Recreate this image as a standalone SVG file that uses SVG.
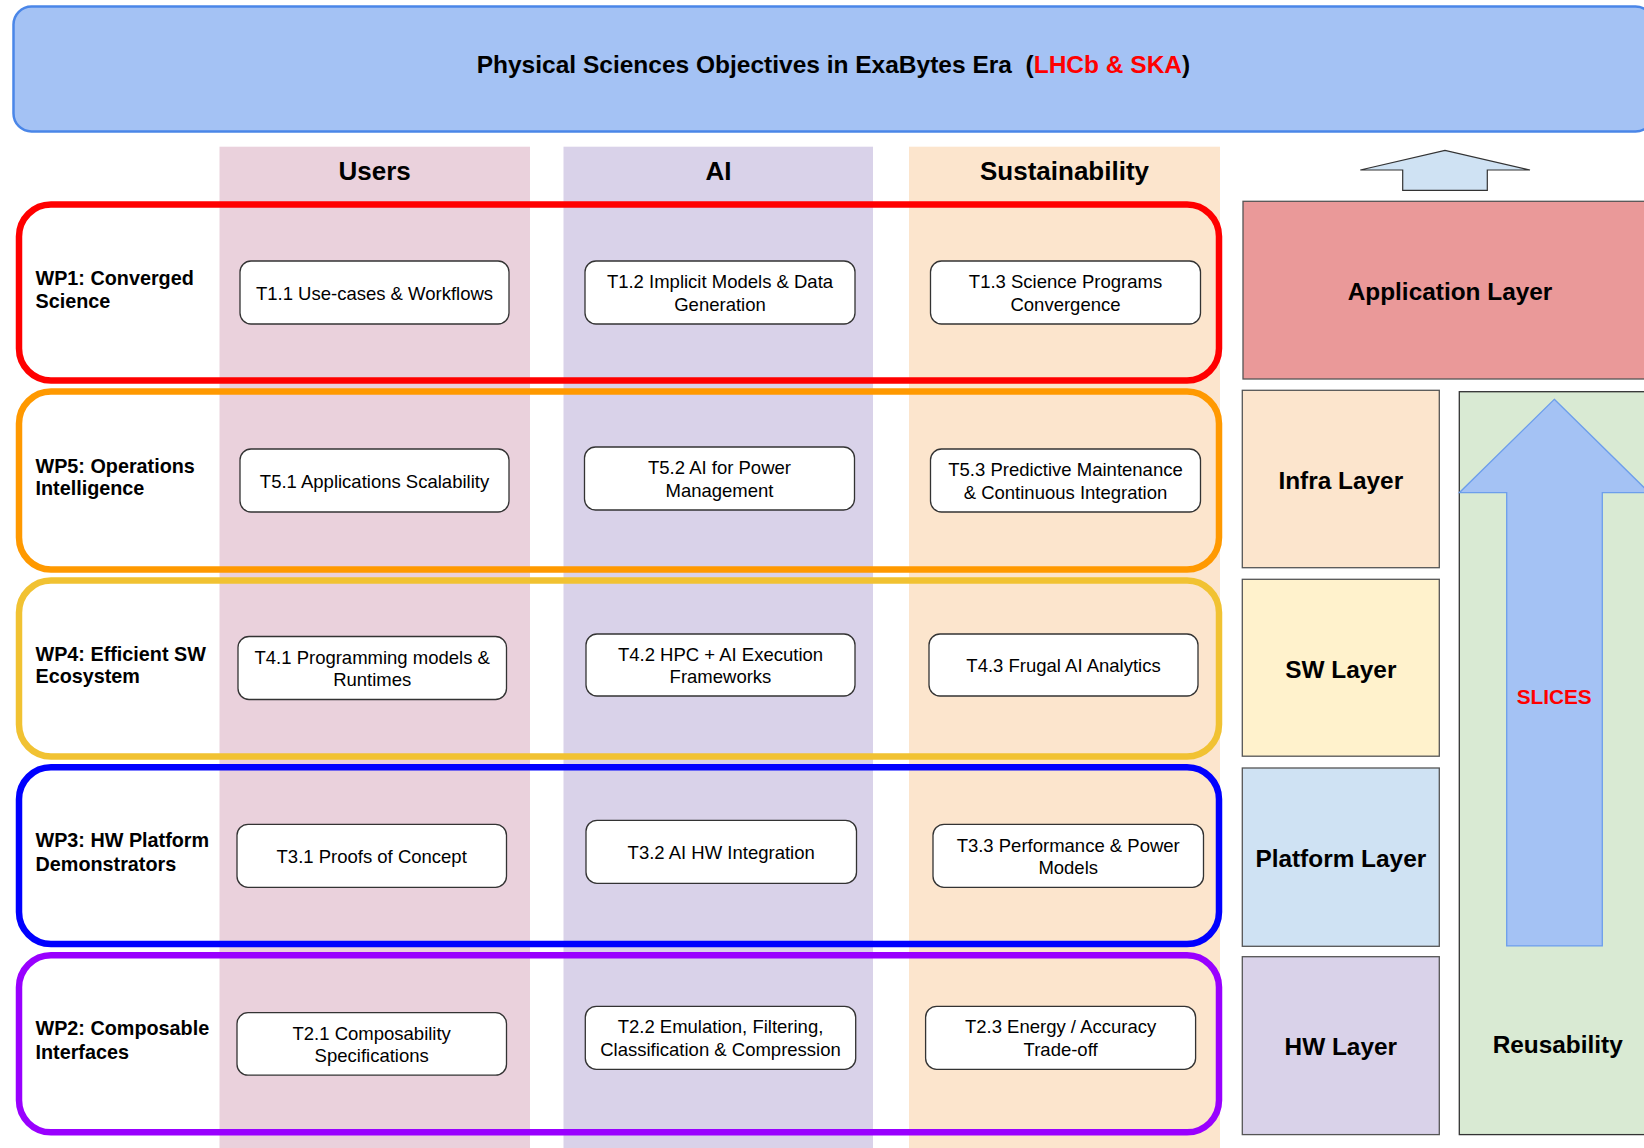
<svg xmlns="http://www.w3.org/2000/svg" width="1644" height="1148" viewBox="0 0 1644 1148">
<style>
  text { font-family: "Liberation Sans", Arial, sans-serif; fill: #000; }
  .title { font-size: 24.5px; font-weight: bold; }
  .hdr { font-size: 26px; font-weight: bold; text-anchor: middle; }
  .wp { font-size: 19.8px; font-weight: bold; }
  .task { fill: #ffffff; stroke: #333333; stroke-width: 1.3; }
  .tt { font-size: 18.5px; text-anchor: middle; }
  .wpbox { fill: none; stroke-width: 6.5; }
  .layer { stroke: #555555; stroke-width: 1.3; }
  .lt { font-size: 24.4px; font-weight: bold; text-anchor: middle; }
  .red { fill: #ff0000; }
</style>

<g id="title">
  <rect x="13.5" y="6.5" width="1640" height="125" rx="18" ry="18" fill="#a4c2f4" stroke="#4a86e8" stroke-width="2.5"/>
  <text class="title" x="476.7" y="73.3" xml:space="preserve">Physical Sciences Objectives in ExaBytes Era  (<tspan class="red">LHCb &amp; SKA</tspan>)</text>
</g>

<g id="columns">
  <g id="col-users">
    <rect x="219.5" y="146.7" width="310.5" height="1010" fill="#ead1dc"/>
    <text class="hdr" x="374.7" y="180">Users</text>
  </g>
  <g id="col-ai">
    <rect x="563.5" y="146.7" width="309.5" height="1010" fill="#d9d2e9"/>
    <text class="hdr" x="718.5" y="180">AI</text>
  </g>
  <g id="col-sustainability">
    <rect x="909" y="146.7" width="311" height="1010" fill="#fce5cd"/>
    <text class="hdr" x="1064.5" y="180">Sustainability</text>
  </g>
</g>

<g id="wp1">
  <rect class="wpbox" x="19" y="204.5" width="1200" height="176" rx="32" ry="32" stroke="#ff0000"/>
  <text class="wp" x="35.5" y="285">WP1: Converged</text>
  <text class="wp" x="35.5" y="307.7">Science</text>
</g>
<g id="wp5">
  <rect class="wpbox" x="19" y="391.5" width="1200" height="178" rx="32" ry="32" stroke="#ff9900"/>
  <text class="wp" x="35.5" y="472.7">WP5: Operations</text>
  <text class="wp" x="35.5" y="495">Intelligence</text>
</g>
<g id="wp4">
  <rect class="wpbox" x="19" y="580.5" width="1200" height="176" rx="32" ry="32" stroke="#f1c232"/>
  <text class="wp" x="35.5" y="660.6">WP4: Efficient SW</text>
  <text class="wp" x="35.5" y="683.4">Ecosystem</text>
</g>
<g id="wp3">
  <rect class="wpbox" x="19" y="767.3" width="1200" height="176.7" rx="32" ry="32" stroke="#0000ff"/>
  <text class="wp" x="35.5" y="847.3">WP3: HW Platform</text>
  <text class="wp" x="35.5" y="871">Demonstrators</text>
</g>
<g id="wp2">
  <rect class="wpbox" x="19" y="955.3" width="1200" height="177" rx="32" ry="32" stroke="#9900ff"/>
  <text class="wp" x="35.5" y="1035.3">WP2: Composable</text>
  <text class="wp" x="35.5" y="1059">Interfaces</text>
</g>

<g id="t1-1">
  <rect class="task" x="240" y="261" width="269" height="63" rx="11"/>
  <text class="tt" x="374.5" y="299.5">T1.1 Use-cases &amp; Workflows</text>
</g>
<g id="t1-2">
  <rect class="task" x="585" y="261" width="270" height="63" rx="11"/>
  <text class="tt" x="720" y="288">T1.2 Implicit Models &amp; Data</text>
  <text class="tt" x="720" y="310.6">Generation</text>
</g>
<g id="t1-3">
  <rect class="task" x="930.5" y="261" width="270" height="63" rx="11"/>
  <text class="tt" x="1065.5" y="288">T1.3 Science Programs</text>
  <text class="tt" x="1065.5" y="310.6">Convergence</text>
</g>

<g id="t5-1">
  <rect class="task" x="240" y="449" width="269" height="63" rx="11"/>
  <text class="tt" x="374.5" y="487.5">T5.1 Applications Scalability</text>
</g>
<g id="t5-2">
  <rect class="task" x="584.5" y="447" width="270" height="63" rx="11"/>
  <text class="tt" x="719.5" y="474">T5.2 AI for Power</text>
  <text class="tt" x="719.5" y="496.6">Management</text>
</g>
<g id="t5-3">
  <rect class="task" x="930.5" y="449" width="270" height="63" rx="11"/>
  <text class="tt" x="1065.5" y="476">T5.3 Predictive Maintenance</text>
  <text class="tt" x="1065.5" y="498.6">&amp; Continuous Integration</text>
</g>

<g id="t4-1">
  <rect class="task" x="238" y="636.5" width="268.5" height="63" rx="11"/>
  <text class="tt" x="372.2" y="663.5">T4.1 Programming models &amp;</text>
  <text class="tt" x="372.2" y="686.1">Runtimes</text>
</g>
<g id="t4-2">
  <rect class="task" x="586" y="634" width="269" height="62" rx="11"/>
  <text class="tt" x="720.5" y="660.5">T4.2 HPC + AI Execution</text>
  <text class="tt" x="720.5" y="683.1">Frameworks</text>
</g>
<g id="t4-3">
  <rect class="task" x="929" y="634" width="269" height="62" rx="11"/>
  <text class="tt" x="1063.5" y="672">T4.3 Frugal AI Analytics</text>
</g>

<g id="t3-1">
  <rect class="task" x="237" y="824.3" width="269.5" height="63" rx="11"/>
  <text class="tt" x="371.7" y="862.8">T3.1 Proofs of Concept</text>
</g>
<g id="t3-2">
  <rect class="task" x="586" y="820.3" width="270.5" height="63" rx="11"/>
  <text class="tt" x="721.2" y="858.8">T3.2 AI HW Integration</text>
</g>
<g id="t3-3">
  <rect class="task" x="933" y="824.3" width="270.5" height="63" rx="11"/>
  <text class="tt" x="1068.2" y="851.8">T3.3 Performance &amp; Power</text>
  <text class="tt" x="1068.2" y="874.4">Models</text>
</g>

<g id="t2-1">
  <rect class="task" x="237" y="1012.7" width="269.5" height="62.5" rx="11"/>
  <text class="tt" x="371.7" y="1039.5">T2.1 Composability</text>
  <text class="tt" x="371.7" y="1062.1">Specifications</text>
</g>
<g id="t2-2">
  <rect class="task" x="585.3" y="1006.3" width="270.4" height="63" rx="11"/>
  <text class="tt" x="720.5" y="1033.3">T2.2 Emulation, Filtering,</text>
  <text class="tt" x="720.5" y="1055.9">Classification &amp; Compression</text>
</g>
<g id="t2-3">
  <rect class="task" x="925.6" y="1006.3" width="270" height="63" rx="11"/>
  <text class="tt" x="1060.6" y="1033.3">T2.3 Energy / Accuracy</text>
  <text class="tt" x="1060.6" y="1055.9">Trade-off</text>
</g>

<g id="up-arrow">
  <polygon points="1360.3,170 1445,150.3 1530,170 1487.3,170 1487.3,190.3 1402.7,190.3 1402.7,170" fill="#cfe2f3" stroke="#333333" stroke-width="1.2"/>
</g>

<g id="application-layer">
  <rect class="layer" x="1243" y="201.3" width="420" height="177.7" fill="#ea9999"/>
  <text class="lt" x="1450" y="300.4">Application Layer</text>
</g>
<g id="infra-layer">
  <rect class="layer" x="1242.3" y="390.3" width="197" height="177.4" fill="#fce5cd"/>
  <text class="lt" x="1340.8" y="488.7">Infra Layer</text>
</g>
<g id="sw-layer">
  <rect class="layer" x="1242.3" y="579.3" width="197" height="176.9" fill="#fff2cc"/>
  <text class="lt" x="1340.8" y="677.5">SW Layer</text>
</g>
<g id="platform-layer">
  <rect class="layer" x="1242.3" y="768" width="197" height="178.3" fill="#cfe2f3" stroke="#333333"/>
  <text class="lt" x="1340.8" y="866.6">Platform Layer</text>
</g>
<g id="hw-layer">
  <rect class="layer" x="1242.3" y="956.7" width="197" height="177.9" fill="#d9d2e9"/>
  <text class="lt" x="1340.8" y="1055.2">HW Layer</text>
</g>

<g id="reusability">
  <rect x="1459.3" y="391.7" width="210" height="742.9" fill="#d9ead3" stroke="#333333" stroke-width="1.3"/>
  <polygon points="1554.3,399.3 1649.3,492.7 1602.3,492.7 1602.3,945.9 1506.7,945.9 1506.7,492.7 1459.3,492.7" fill="#a4c2f4" stroke="#6d9eeb" stroke-width="1.3"/>
  <text class="lt red" x="1554.2" y="703.5" style="font-size:20.8px">SLICES</text>
  <text class="lt" x="1557.7" y="1053.1">Reusability</text>
</g>

<g id="connectors"></g>
</svg>
